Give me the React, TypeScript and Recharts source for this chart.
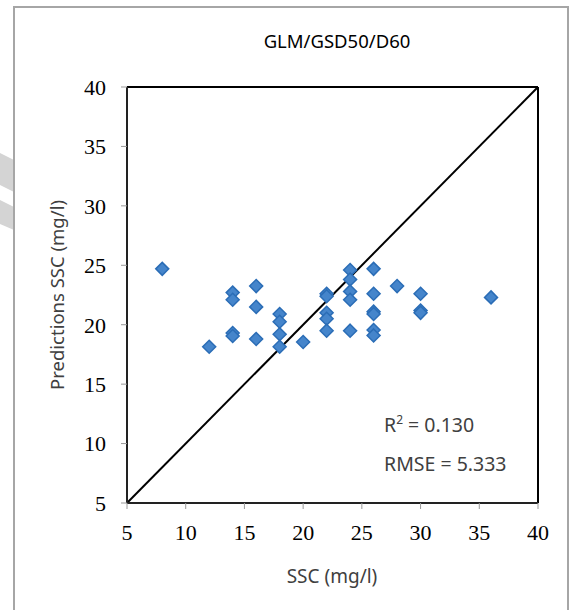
import React from "react";
import {
  ScatterChart,
  Scatter,
  XAxis,
  YAxis,
  ReferenceLine,
} from "recharts";

// observed SSC (mg/l)
const observed = [
  8, 12, 14, 14, 14, 14, 16, 16, 16, 18, 18, 18, 18, 20, 22, 22, 22, 22, 22,
  24, 24, 24, 24, 24, 26, 26, 26, 26, 26, 26, 28, 30, 30, 30, 36,
];
// predicted SSC (mg/l)
const predicted = [
  24.7, 18.15, 22.7, 22.1, 19.3, 19.05, 23.25, 21.5, 18.8, 20.9, 20.25, 19.2,
  18.15, 18.55, 22.6, 22.4, 21.0, 20.5, 19.5, 24.6, 23.8, 22.8, 22.1, 19.5,
  24.7, 22.6, 21.1, 20.9, 19.55, 19.1, 23.25, 22.6, 21.2, 21.0, 22.3,
];
const ticks = [5, 10, 15, 20, 25, 30, 35, 40];
const oneToOne = [
  { x: 5, y: 5 },
  { x: 40, y: 40 },
];

const points = observed.map((x, i) => ({ x, y: predicted[i] }));

const sans = "'Noto Sans', sans-serif";
const serif = "'Liberation Serif', serif";

const Diamond = (props: any) => {
  const { cx, cy } = props;
  const r = 6.5;
  return (
    <polygon
      points={`${cx},${cy - r} ${cx + r},${cy} ${cx},${cy + r} ${cx - r},${cy}`}
      fill="#4585cb"
      stroke="#2b6db6"
      strokeWidth={1.5}
    />
  );
};

export default function App() {
  return (
    <div
      style={{
        position: "absolute",
        left: 0,
        top: 0,
        width: 570,
        height: 610,
        background: "#fff",
        overflow: "hidden",
      }}
    >
      {/* scan artefacts at the left edge of the page */}
      <svg width={14} height={610} style={{ position: "absolute", left: 0, top: 0 }}>
        <polygon points="0,153 14,160 14,192 0,185" fill="#d4d4d4" />
        <polygon points="0,200 14,207 14,230 0,224" fill="#d4d4d4" />
      </svg>
      <div
        style={{
          position: "absolute",
          left: 13,
          top: 6,
          width: 556,
          height: 640,
          border: "2px solid #a6a6a6",
          boxSizing: "border-box",
        }}
      />
      <ScatterChart
        width={570}
        height={610}
        margin={{ top: 87, right: 32, bottom: 47, left: 0 }}
        style={{ position: "absolute", left: 0, top: 0 }}
      >
        <XAxis
          type="number"
          dataKey="x"
          domain={[5, 40]}
          ticks={ticks}
          height={60}
          tickSize={6}
          tickMargin={15}
          axisLine={{ stroke: "#222", strokeWidth: 2 }}
          tickLine={{ stroke: "#999" }}
          tick={{ fill: "#000", fontSize: 22, fontFamily: serif }}
          allowDataOverflow
        />
        <YAxis
          type="number"
          dataKey="y"
          domain={[5, 40]}
          ticks={ticks}
          width={127}
          tickSize={6}
          tickMargin={15}
          axisLine={{ stroke: "#222", strokeWidth: 2 }}
          tickLine={{ stroke: "#999" }}
          tick={{ fill: "#000", fontSize: 22, fontFamily: serif }}
          allowDataOverflow
        />
        <ReferenceLine y={40} stroke="#000" strokeWidth={2} />
        <ReferenceLine x={40} stroke="#000" strokeWidth={2} />
        <ReferenceLine segment={oneToOne} stroke="#000" strokeWidth={2} />
        <Scatter
          data={points}
          shape={<Diamond />}
          isAnimationActive={false}
        />
        <text
          x={337}
          y={48}
          textAnchor="middle"
          fontFamily={sans}
          fontSize={18.5}
          fill="#000"
        >
          GLM/GSD50/D60
        </text>
        <text
          x={332}
          y={583}
          textAnchor="middle"
          fontFamily={sans}
          fontSize={19}
          fill="#404040"
        >
          SSC (mg/l)
        </text>
        <text
          x={64}
          y={295}
          textAnchor="middle"
          transform="rotate(-90 64 295)"
          fontFamily={sans}
          fontSize={18.5}
          fill="#404040"
        >
          Predictions SSC (mg/l)
        </text>
        <text x={384} y={432} fontFamily={sans} fontSize={19.5} fill="#404040">
          R<tspan dy={-8} fontSize={12}>2</tspan>
          <tspan dy={8}> = 0.130</tspan>
        </text>
        <text x={384} y={471} fontFamily={sans} fontSize={19.5} fill="#404040">
          RMSE = 5.333
        </text>
      </ScatterChart>
    </div>
  );
}
